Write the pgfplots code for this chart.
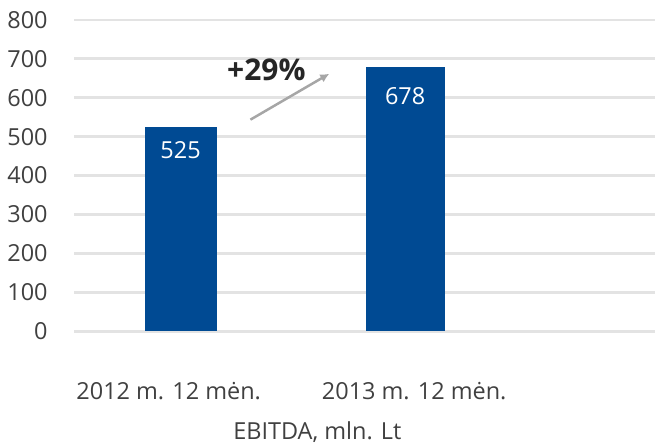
\documentclass[border=0pt]{standalone}
\usepackage{fontspec}
\setmainfont{Open Sans}
\usepackage{pgfplots}
\usetikzlibrary{arrows.meta}
\pgfplotsset{compat=1.18}
\definecolor{barblue}{HTML}{004A93}
\definecolor{gridgray}{HTML}{E3E3E3}
\definecolor{arrowgray}{HTML}{A6A6A6}
\definecolor{txt}{HTML}{404040}
\begin{document}
\begin{tikzpicture}
\begin{axis}[
  scale only axis,
  width=582pt, height=312pt,
  xmin=-0.4756, xmax=2.111,
  ymin=0, ymax=800,
  ytick={0,100,...,800},
  xtick={-0.053,1.04},
  xticklabels={2012 m. 12 mėn.,2013 m. 12 mėn.},
  axis line style={draw=none},
  major tick length=0pt,
  ymajorgrids,
  grid style={gridgray, line width=2.6pt},
  /pgf/number format/assume math mode=true,
  tick label style={font=\fontsize{23.5}{26}\selectfont, text=txt},
  yticklabel style={anchor=east, inner sep=0pt, xshift=-26pt},
  xticklabel style={anchor=center, inner sep=0pt, yshift=-60pt},
  clip=false,
]
\addplot[ybar, bar width=72pt, bar shift=0pt, fill=barblue, draw=none,
  nodes near coords, every node near coord/.append style={anchor=north, yshift=-11pt, text=white, font=\fontsize{23.5}{26}\selectfont}]
  coordinates {(0,525)};
\addplot[ybar, bar width=79pt, bar shift=0pt, fill=barblue, draw=none,
  nodes near coords, every node near coord/.append style={anchor=north, yshift=-17pt, text=white, font=\fontsize{23.5}{26}\selectfont}]
  coordinates {(1,678)};
\draw[arrowgray, line width=2.5pt, -{Latex[length=9pt,width=9pt]}] (axis cs:0.311,543.6) -- (axis cs:0.662,661.5);
\node[font=\fontsize{30}{34}\selectfont\bfseries, text=black!85] at (axis cs:0.382,672) {+29\%};
\node[font=\fontsize{23.5}{26}\selectfont, text=txt] at (axis cs:0.609,-259) {EBITDA, mln. Lt};
\path (axis cs:-0.804,851) rectangle (axis cs:2.111,-292);
\end{axis}
\end{tikzpicture}
\end{document}
